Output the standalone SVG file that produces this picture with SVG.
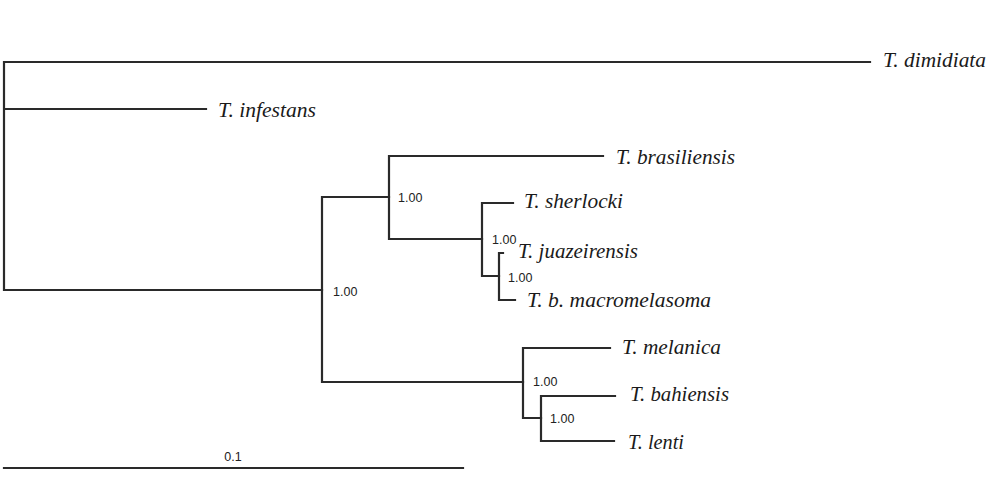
<svg xmlns="http://www.w3.org/2000/svg" width="1004" height="488" viewBox="0 0 1004 488">
<style>
.br{fill:none;stroke:#2a2a2a;stroke-width:2.2;stroke-linecap:square}
.sp{font-family:"Liberation Serif",serif;font-style:italic;font-size:21px;fill:#1a1a1a}
.bs{font-family:"Liberation Sans",sans-serif;font-size:12.5px;fill:#222}
</style>
<rect width="1004" height="488" fill="#fff"/>
<g id="connectors">
<path class="br" d="M4,62 V290 M4,62 H870 M4,109 H206 M4,290 H322"/>
<path class="br" d="M322,197 V382 M322,197 H389 M322,382 H523"/>
<path class="br" d="M389,156 V239 M389,156 H603 M389,239 H482"/>
<path class="br" d="M482,203 V276 M482,203 H513 M482,276 H499"/>
<path class="br" d="M499,253 V300 M499,253 H503 M499,300 H515"/>
<path class="br" d="M523,348 V418 M523,348 H610 M523,418 H541"/>
<path class="br" d="M541,396 V441 M541,396 H615 M541,441 H614"/>
<path class="br" d="M4,468 H463"/>
</g>
<g id="n-dimidiata"><text class="sp" x="883" y="67" textLength="103" lengthAdjust="spacingAndGlyphs">T. dimidiata</text></g>
<g id="n-infestans"><text class="sp" x="218" y="117" textLength="98" lengthAdjust="spacingAndGlyphs">T. infestans</text></g>
<g id="n-brasiliensis"><text class="sp" x="616" y="164" textLength="119" lengthAdjust="spacingAndGlyphs">T. brasiliensis</text></g>
<g id="n-sherlocki"><text class="sp" x="524" y="208" textLength="99" lengthAdjust="spacingAndGlyphs">T. sherlocki</text></g>
<g id="n-juazeirensis"><text class="sp" x="518" y="258" textLength="120" lengthAdjust="spacingAndGlyphs">T. juazeirensis</text></g>
<g id="n-macromelasoma"><text class="sp" x="527" y="307" textLength="184" lengthAdjust="spacingAndGlyphs">T. b. macromelasoma</text></g>
<g id="n-melanica"><text class="sp" x="622" y="354" textLength="99" lengthAdjust="spacingAndGlyphs">T. melanica</text></g>
<g id="n-bahiensis"><text class="sp" x="630" y="401" textLength="99" lengthAdjust="spacingAndGlyphs">T. bahiensis</text></g>
<g id="n-lenti"><text class="sp" x="628" y="449" textLength="56" lengthAdjust="spacingAndGlyphs">T. lenti</text></g>
<g id="support">
<text class="bs" x="333" y="296">1.00</text>
<text class="bs" x="398" y="202">1.00</text>
<text class="bs" x="492" y="244">1.00</text>
<text class="bs" x="508" y="282">1.00</text>
<text class="bs" x="533" y="386">1.00</text>
<text class="bs" x="550" y="423">1.00</text>
</g>
<g id="scale"><text class="bs" x="233" y="461" text-anchor="middle">0.1</text></g>
</svg>
